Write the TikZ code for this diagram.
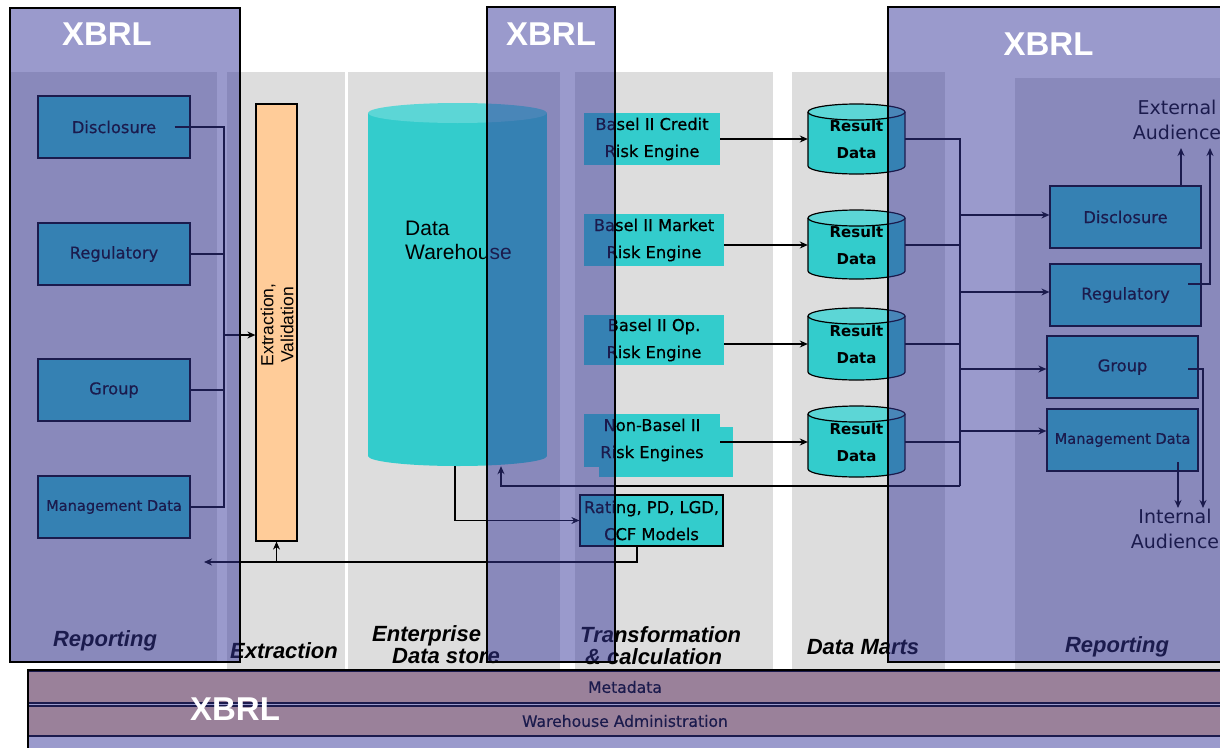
\documentclass[tikz,border=0pt]{standalone}
\usepackage{fontspec}
\setmainfont{Liberation Sans}
\newfontfamily\dvs{DejaVu Sans}
\newfontfamily\dvsm[FakeBold=0.5]{DejaVu Sans}
\usetikzlibrary{arrows.meta}
\definecolor{cyanbox}{HTML}{33CCCC}
\definecolor{cyantop}{HTML}{5CD6D6}
\definecolor{peach}{HTML}{FFCC99}
\definecolor{colgray}{HTML}{DDDDDD}
\definecolor{xbrlc}{RGB}{55,55,155}
% cylinder: #1 cx, #2 top centre y, #3 bottom centre y, #4 half width, #5 ry, #6 outline style
\newcommand\drawcyl[6]{%
  \fill[cyanbox] (#1-#4,#2) rectangle (#1+#4,#3);
  \fill[cyanbox] (#1,#3) ellipse [x radius=#4pt, y radius=#5pt];
  \fill[cyantop] (#1,#2) ellipse [x radius=#4pt, y radius=#5pt];
  \path[#6] (#1-#4,#2) -- (#1-#4,#3) arc[start angle=180, end angle=360, x radius=#4pt, y radius=#5pt] -- (#1+#4,#2);
  \path[#6] (#1,#2) ellipse [x radius=#4pt, y radius=#5pt];
}
\begin{document}
\begin{tikzpicture}[x=1pt,y=-1pt,
  colbg/.style={fill=colgray},
  repbox/.style={draw=black, line width=1.2pt, fill=cyanbox, minimum width=152pt, minimum height=62pt, inner sep=0pt, font=\dvsm\fontsize{16.3}{19}\selectfont},
  engbox/.style={fill=cyanbox, inner sep=0pt, align=center, font=\dvsm\fontsize{16.3}{27}\selectfont},
  cylnode/.style={inner sep=0pt, minimum width=97pt, align=center, font=\dvs\bfseries\fontsize{15}{27}\selectfont},
  conn/.style={draw=black, line width=1.2pt},
  arr/.style={conn, -{Stealth[length=8pt,width=7pt]}},
  xbrlov/.style={fill=xbrlc, fill opacity=0.5, draw=black, line width=1.3pt},
  xbrltxt/.style={text=white, inner sep=0pt, font=\bfseries\fontsize{33}{36}\selectfont},
  collabel/.style={font=\bfseries\itshape\fontsize{22}{22}\selectfont, align=left, inner sep=0pt},
  audtxt/.style={font=\dvs\fontsize{19}{25}\selectfont, align=center, inner sep=0pt},
  barbox/.style={fill=peach, draw=black, line width=1.2pt, inner sep=0pt, font=\dvsm\fontsize{15.6}{18}\selectfont}
]
\clip (0,0) rectangle (1220,747);
\fill[white] (0,0) rectangle (1220,747);

% background columns
\fill[colbg] (10,72) rectangle (217,662);
\fill[colbg] (227,72) rectangle (345,670);
\fill[colbg] (348,72) rectangle (560,670);
\fill[colbg] (575,72) rectangle (773,670);
\fill[colbg] (792,72) rectangle (945,670);
\fill[colbg] (1015,78) rectangle (1220,670);

% left reporting boxes
\node[repbox] (ldisc) at (114,127) {Disclosure};
\node[repbox] (lreg) at (114,254) {Regulatory};
\node[repbox] (lgrp) at (114,390) {Group};
\node[repbox, font=\dvsm\fontsize{14.6}{17}\selectfont] (lmgmt) at (114,507) {Management Data};

% extraction bar
\node[draw=black, line width=1.2pt, fill=peach, minimum width=41pt, minimum height=437pt, inner sep=0pt] (ext) at (276.5,322.5) {};
\node[rotate=90, align=center, inner sep=0pt, font=\fontsize{17.5}{20}\selectfont] (extt) at (277,325) {Extraction,\\Validation};

% data warehouse
\drawcyl{457.5}{113}{456}{89.5}{10}{draw=none}
\node[inner sep=0pt, minimum width=179pt, minimum height=363pt] (dw) at (457.5,284.5) {};
\node[anchor=west, align=left, inner sep=0pt, font=\fontsize{21}{24}\selectfont] (dwt) at (405,240) {Data\\Warehouse};

% engines
\node[engbox, minimum width=136pt, minimum height=52pt] (credit) at (652,139) {Basel II Credit\\Risk Engine};
\node[engbox, minimum width=140pt, minimum height=52pt] (market) at (654,240) {Basel II Market\\Risk Engine};
\node[engbox, minimum width=140pt, minimum height=50pt] (oprisk) at (654,340) {Basel II Op.\\Risk Engine};
\fill[cyanbox] (599,427) rectangle (733,477);
\node[engbox, minimum width=136pt, minimum height=53pt] (nonb) at (652,440) {Non-Basel II\\Risk Engines};
\node[engbox, draw=black, line width=1.2pt, minimum width=143pt, minimum height=51pt] (rating) at (651.5,520.5) {Rating, PD, LGD,\\CCF Models};

% result data cylinders
\drawcyl{856.5}{112}{166}{48.5}{8}{draw=black, line width=1.2pt}
\drawcyl{856.5}{218}{271}{48.5}{8}{draw=black, line width=1.2pt}
\drawcyl{856.5}{316}{372}{48.5}{8}{draw=black, line width=1.2pt}
\drawcyl{856.5}{414}{469}{48.5}{8}{draw=black, line width=1.2pt}
\node[cylnode, minimum height=70pt] (rd1) at (856.5,139) {Result\\Data};
\node[cylnode, minimum height=70pt] (rd2) at (856.5,245) {Result\\Data};
\node[cylnode, minimum height=72pt] (rd3) at (856.5,344) {Result\\Data};
\node[cylnode, minimum height=72pt] (rd4) at (856.5,442) {Result\\Data};

% right reporting boxes
\node[repbox, minimum width=151pt] (rdisc) at (1125.5,217) {Disclosure};
\node[repbox, minimum width=151pt] (rreg) at (1125.5,295) {Regulatory};
\node[repbox, minimum width=151pt] (rgrp) at (1122.5,367) {Group};
\node[repbox, minimum width=151pt, font=\dvsm\fontsize{14.6}{17}\selectfont] (rmgmt) at (1122.5,440) {Management Data};

\node[audtxt] (extaud) at (1177,119.5) {External\\Audience};
\node[audtxt] (intaud) at (1175,528.5) {Internal\\Audience};

% connectors: left reporting -> extraction
\coordinate (lbus) at (224,335);
\draw[conn] ([xshift=-16pt]ldisc.east) -- (ldisc.east -| lbus) -- (lmgmt.east -| lbus) -- (lmgmt.east);
\draw[conn] (lreg.east) -- (lreg.east -| lbus);
\draw[conn] (lgrp.east) -- (lgrp.east -| lbus);
\draw[arr] (lbus) -- (lbus -| ext.west);

% rating -> reporting / extraction
\coordinate (rbus) at (204,562);
\draw[arr] ([xshift=-14.5pt]rating.south) -- ([xshift=-14.5pt]rating.south |- rbus) -- (rbus);
\draw[arr] (ext.south |- rbus) -- (ext.south);

% warehouse -> rating
\draw[arr] ([xshift=-2.5pt]dw.south) -- ([xshift=-2.5pt]dw.south |- rating.west) -- (rating.west);

% engines -> result data
\draw[arr] (rd1.west -| credit.east) -- (rd1.west);
\draw[arr] (rd2.west -| market.east) -- (rd2.west);
\draw[arr] (rd3.west -| oprisk.east) -- (rd3.west);
\draw[arr] (rd4.west -| nonb.east) -- (rd4.west);

% result data trunk
\coordinate (trb) at (960,486);
\coordinate (fb) at (501,486);
\draw[conn] (rd1.east) -- (rd1.east -| trb) -- (trb);
\draw[conn] (rd2.east) -- (rd2.east -| trb);
\draw[conn] (rd3.east) -- (rd3.east -| trb);
\draw[conn] (rd4.east) -- (rd4.east -| trb);
\draw[arr] (trb) -- (fb) -- (fb |- dw.south);
\coordinate (t1) at (960,215);
\coordinate (t2) at (960,292);
\coordinate (t3) at (960,369);
\coordinate (t4) at (960,431);
\draw[arr] (t1) -- (t1 -| rdisc.west);
\draw[arr] (t2) -- (t2 -| rreg.west);
\draw[arr] (t3) -- (t3 -| rgrp.west);
\draw[arr] (t4) -- (t4 -| rmgmt.west);

% audiences
\coordinate (ea1) at (1181,148);
\coordinate (ea2) at (1210,148);
\coordinate (regout) at (1188,284);
\coordinate (ia1) at (1203,508);
\coordinate (ia2) at (1178,508);
\coordinate (grpout) at (1188,369);
\coordinate (mgmtout) at (1178,462);
\draw[arr] (ea1 |- rdisc.north) -- (ea1);
\draw[arr] (regout) -- (regout -| ea2) -- (ea2);
\draw[arr] (grpout) -- (grpout -| ia1) -- (ia1);
\draw[arr] (mgmtout) -- (ia2);

% column labels
\node[collabel] (labrepl) at (105,641) {Reporting};
\node[collabel] (labext) at (284,651) {Extraction};
\node[collabel, anchor=west] (labeds) at (372,645) {Enterprise\\\hspace*{20pt}Data store};
\node[collabel, anchor=west] (labtr) at (580,645.5) {Transformation\\\hspace*{5pt}\& calculation};
\node[collabel] (labdm) at (863,647) {Data Marts};
\node[collabel] (labrepr) at (1117,647) {Reporting};

% bottom bars
\node[barbox, minimum width=1194pt, minimum height=32pt] (meta) at (625,687) {Metadata};
\node[barbox, minimum width=1194pt, minimum height=30pt] (wadm) at (625,721) {Warehouse Administration};

% XBRL overlays
\path[xbrlov] (10,8) rectangle (240,662);
\path[xbrlov] (487,7) rectangle (615,662);
\path[xbrlov] (888,7) rectangle (1230,662);
\path[xbrlov] (28,670) rectangle (1230,760);
\node[xbrltxt] (x1) at (107,34) {XBRL};
\node[xbrltxt] (x2) at (551,34) {XBRL};
\node[xbrltxt] (x3) at (1048.5,44) {XBRL};
\node[xbrltxt] (x4) at (235,709) {XBRL};
\end{tikzpicture}
\end{document}
